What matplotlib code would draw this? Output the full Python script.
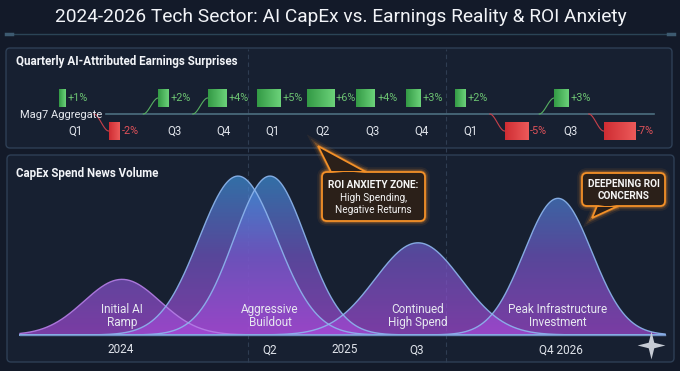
import numpy as np
import matplotlib.pyplot as plt
from matplotlib.patches import FancyBboxPatch, Polygon
from matplotlib.colors import LinearSegmentedColormap
from matplotlib.path import Path

plt.rcParams['font.family'] = ['Roboto', 'DejaVu Sans']

# ---- data ----
quarter_labels = ['Q1', 'Q2', 'Q3', 'Q4', 'Q1', 'Q2', 'Q3', 'Q4', 'Q1', 'Q2', 'Q3', 'Q4']
surprise_pct = [1, -2, 2, 4, 5, 6, 4, 3, 2, -5, 3, -7]
year_breaks = [3.5, 7.5]
connector_quarters = [1, 2, 3, 9, 10, 11]

wave_center = [12.2, 23.8, 27.0, 41.8, 55.8]
wave_height = [35, 100, 100, 58, 86]
wave_sigma = [3.8, 3.9, 3.6, 4.3, 3.4]
wave_labels = ['Initial AI\nRamp', '', 'Aggressive\nBuildout', 'Continued\nHigh Spend',
               'Peak Infrastructure\nInvestment']
timeline_ticks = [12.1, 27.0, 34.5, 41.7, 56.1]
timeline_labels = ['2024', 'Q2', '2025', 'Q3', 'Q4 2026']

BG = '#131a29'
PANEL = '#172031'
W, H = 680, 371

fig = plt.figure(figsize=(6.8, 3.71), dpi=100, facecolor=BG)


def fy(y):
    return 1 - y / H


# background / decoration axes in pixel units
ax_bg = fig.add_axes([0, 0, 1, 1], zorder=0)
ax_bg.set_xlim(0, W)
ax_bg.set_ylim(H, 0)
ax_bg.axis('off')
ax_bg.set_facecolor(BG)

for (x0, y0, w, h) in [(6, 48, 666, 100), (7, 155, 667, 207)]:
    ax_bg.add_patch(FancyBboxPatch((x0, y0), w, h, boxstyle='round,pad=0,rounding_size=4',
                                   fc=PANEL, ec='#2e3f55', lw=1.0))
ax_bg.plot([10, 670], [34, 34], color='#2b4456', lw=1.0)
ax_bg.plot([6, 12], [34, 34], color='#3d5a70', lw=2.5)
ax_bg.plot([668, 674], [34, 34], color='#3d5a70', lw=2.5)
ax_bg.text(341, 17, '2024-2026 Tech Sector: AI CapEx vs. Earnings Reality & ROI Anxiety',
           ha='center', va='center', color='#f2f4f8', fontsize=13.8)
ax_bg.text(16, 62, 'Quarterly AI-Attributed Earnings Surprises', ha='left', va='center',
           color='#f2f4f8', fontsize=8.4, fontweight='bold')
ax_bg.text(16, 173, 'CapEx Spend News Volume', ha='left', va='center',
           color='#f2f4f8', fontsize=8.3, fontweight='bold')

# ---- top panel: earnings surprises ----
ax_top = fig.add_axes([0, fy(148), 1, 100 / H], zorder=2)
ax_top.set_facecolor('none')
ax_top.axis('off')
xq = np.arange(len(surprise_pct))
ax_top.set_xlim(-75 / 49.5, (W - 75) / 49.5)
ax_top.set_ylim(-34, 66)

green = LinearSegmentedColormap.from_list('g', ['#339a45', '#6cd27a'])
red = LinearSegmentedColormap.from_list('r', ['#cf2d33', '#ec5a5a'])
lefts = xq - 0.32
widths = 0.05 + np.abs(surprise_pct) * 0.083
bottoms = np.where(np.array(surprise_pct) > 0, 7, -8)
heights = np.where(np.array(surprise_pct) > 0, 18, -18)
bars = ax_top.bar(lefts, heights, width=widths, bottom=bottoms, align='edge',
                  color='none', edgecolor='none')
hgrad = np.linspace(0, 1, 64).reshape(1, -1)
for b, v in zip(bars, surprise_pct):
    x0, y0 = b.get_x(), b.get_y()
    x1, y1 = x0 + b.get_width(), y0 + b.get_height()
    ax_top.imshow(hgrad, extent=[x0, x1, min(y0, y1), max(y0, y1)], aspect='auto',
                  cmap=green if v > 0 else red, zorder=3)
    ax_top.text(x1 + 0.04, (y0 + y1) / 2, f'{v:+d}%', ha='left', va='center', fontsize=7.8,
                color='#6cc272' if v > 0 else '#e0525a', zorder=4)

for i, (q, v) in enumerate(zip(quarter_labels, surprise_pct)):
    if v > 0:
        ax_top.text(i, -17, q, ha='center', va='center', fontsize=8.3, color='#dfe3ea')

ax_top.plot([0.62, 11.7], [0, 0], color='#4d6f80', lw=1.2, zorder=2)
ax_top.text(0.55, -0.5, 'Mag7 Aggregate', ha='right', va='center', fontsize=8, color='#e6e9ef')

for i in connector_quarters:
    v = surprise_pct[i]
    xe = lefts[i]
    xs = xe - 0.3
    t = np.linspace(0, 1, 40)
    s = t * t * (3 - 2 * t)
    ye = 16 if v > 0 else -17
    ax_top.plot(xs + (xe - xs) * t, ye * s, color='#57b062' if v > 0 else '#c8404a',
                lw=0.8, zorder=2)

for xb in year_breaks:
    ax_top.axvline(xb, ymin=-2.14, ymax=0.99, color='#2f3d52', lw=0.8,
                   ls=(0, (4, 3)), clip_on=False, zorder=1)

# ---- bottom panel: capex news volume waves ----
ax_bot = fig.add_axes([0, fy(362), 1, 202 / H], zorder=2)
ax_bot.set_facecolor('none')
ax_bot.axis('off')

cmap = LinearSegmentedColormap.from_list('pb', ['#a64ad6', '#7458c8', '#3f92da'])
vgrad = np.linspace(0, 1, 256).reshape(-1, 1)
x = np.linspace(2.0, 66.5, 700)
for c, h, s in zip(wave_center, wave_height, wave_sigma):
    y = h * np.exp(-0.5 * ((x - c) / s) ** 2)
    poly = ax_bot.fill_between(x, 0, y, facecolor='none', edgecolor='none')
    im = ax_bot.imshow(vgrad, extent=[0, 68, 0, 100], origin='lower', cmap=cmap,
                       alpha=0.7, aspect='auto', zorder=2)
    im.set_clip_path(poly.get_paths()[0], transform=ax_bot.transData)
    ax_bot.plot(x, y, color='#b57ee6' if h < 50 else '#8db6ee', lw=1.0, alpha=0.9, zorder=3)

ax_bot.plot([2.0, 66.5], [0, 0], color='#6f8fc0', lw=1.0, zorder=3)
for c, lab in zip(wave_center, wave_labels):
    if lab:
        ax_bot.text(c, 12, lab, ha='center', va='center', fontsize=8.5, color='#e6e8f0',
                    linespacing=1.05, zorder=4)
for t, lab in zip(timeline_ticks, timeline_labels):
    ax_bot.text(t, -9.4, lab, ha='center', va='center', fontsize=8.5, color='#dfe3ea')
ax_bot.set_xlim(0, 68)
ax_bot.set_ylim(-17.0, 110.1)

# ---- foreground callouts ----
ax_fg = fig.add_axes([0, 0, 1, 1], zorder=5)
ax_fg.set_xlim(0, W)
ax_fg.set_ylim(H, 0)
ax_fg.axis('off')
ax_fg.set_facecolor('none')

ORANGE = '#f39028'
FILL = '#2b2019'


def callout(x0, y0, w, h, wedge, lines):
    for lw, a in [(7, 0.08), (4.5, 0.15), (2.5, 0.3)]:
        ax_fg.add_patch(FancyBboxPatch((x0, y0), w, h, boxstyle='round,pad=0,rounding_size=5',
                                       fc='none', ec=ORANGE, lw=lw, alpha=a))
        ax_fg.add_patch(Polygon(wedge, closed=False, fill=False, ec=ORANGE, lw=lw, alpha=a))
    ax_fg.add_patch(Polygon(wedge, closed=True, fc=FILL, ec=ORANGE, lw=1.3))
    ax_fg.add_patch(FancyBboxPatch((x0, y0), w, h, boxstyle='round,pad=0,rounding_size=5',
                                   fc=FILL, ec=ORANGE, lw=1.3))
    (ax_, ay_), _, (bx_, by_) = wedge
    ax_fg.add_patch(Polygon([(ax_ + 1.5, ay_), (bx_ - 1.5, by_),
                             ((ax_ + bx_) / 2, ay_ + (1.5 if ay_ < y0 + 1 else -1.5))],
                            closed=True, fc=FILL, ec='none'))
    for (tx, ty, txt, wt) in lines:
        ax_fg.text(tx, ty, txt, ha='center', va='center', color='#f4f4f4', fontsize=7.2,
                   fontweight=wt)


callout(322, 172, 103, 49, [(331, 172), (318, 146), (366, 172)],
        [(373.5, 185, 'ROI ANXIETY ZONE:', 'bold'), (373.5, 198, 'High Spending,', 'normal'),
         (373.5, 210, 'Negative Returns', 'normal')])
callout(582, 173, 83, 33, [(597, 206), (592, 218), (618, 206)],
        [(623.5, 184, 'DEEPENING ROI', 'bold'), (623.5, 196, 'CONCERNS', 'bold')])

star = Path([(0, 1), (0.2, 0.2), (1, 0), (0.2, -0.2), (0, -1), (-0.2, -0.2),
             (-1, 0), (-0.2, 0.2), (0, 1)], closed=True)
ax_fg.plot([651], [345], marker=star, ms=20, color='#c6cbd4', mec='none')

fig.savefig('out.png', dpi=100, facecolor=BG)
